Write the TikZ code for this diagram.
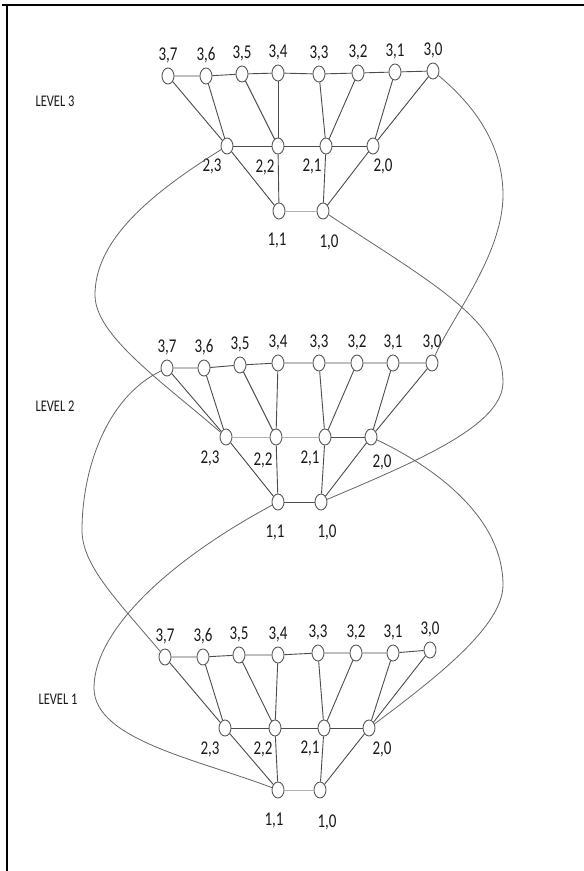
\documentclass[tikz,border=0pt]{standalone}
\usepackage{fontspec}
\setmainfont{Carlito}
\usepackage{graphicx}
\usetikzlibrary{shapes.geometric,calc}
\newcommand\tx[1]{\scalebox{1}[1.3]{#1}}
\begin{document}
\begin{tikzpicture}[x=1pt,y=-1pt,
  v/.style={ellipse,draw=black!65,fill=white,line width=0.9pt,minimum width=12pt,minimum height=16pt,inner sep=0pt},
  e/.style={draw=black!70,line width=0.9pt},
  el/.style={draw=black!30,line width=0.9pt},
  cv/.style={draw=black!60,line width=0.8pt},
  lab/.style={inner sep=0pt,font=\fontsize{15}{15}\selectfont,text=black!90},
  lvl/.style={inner sep=0pt,font=\fontsize{12.5}{13}\selectfont,text=black!90}]
\useasboundingbox (0,0) rectangle (584,871);
\fill[white] (0,0) rectangle (584,871);
% frame
\draw[line width=2pt] (2,5) -- (584,5);
\draw[line width=2pt] (7,5) -- (7,871);

% ---------- LEVEL 3 ----------
\foreach \n/\x/\y/\t in {37/168/76/{3,7},36/206/76/{3,6},35/242/74/{3,5},34/278/73/{3,4},33/319/74/{3,3},32/358/73/{3,2},31/395/72/{3,1},30/433/71/{3,0}}{
  \node[v] (L3n\n) at (\x,\y) {};
  \node[lab] (L3t\n) at ($(L3n\n)+(0,-21)$) {\tx{\t}};
}
\foreach \n/\x/\y in {23/227/146,22/278/146,21/326/146,20/373/146,11/279/211,10/323/211}{
  \node[v] (L3n\n) at (\x,\y) {};
}
\foreach \n/\x/\y/\t in {23/212/166/{2,3},22/265/167/{2,2},21/312/166/{2,1},20/383/166/{2,0},11/277/240/{1,1},10/329/242/{1,0}}{
  \node[lab] (L3t\n) at (\x,\y) {\tx{\t}};
}

% ---------- LEVEL 2 ----------
\foreach \n/\x/\y/\t in {37/167/368/{3,7},36/204/368/{3,6},35/240/365/{3,5},34/278/363/{3,4},33/319/363/{3,3},32/357/363/{3,2},31/393/363/{3,1},30/432/363/{3,0}}{
  \node[v] (L2n\n) at (\x,\y) {};
  \node[lab] (L2t\n) at ($(L2n\n)+(0,-21)$) {\tx{\t}};
}
\foreach \n/\x/\y in {23/226/437,22/276/437,21/325/437,20/371/437,11/278/502,10/321/502}{
  \node[v] (L2n\n) at (\x,\y) {};
}
\foreach \n/\x/\y/\t in {23/210/458/{2,3},22/263/460/{2,2},21/310/458/{2,1},20/382/462/{2,0},11/275/532/{1,1},10/327/532/{1,0}}{
  \node[lab] (L2t\n) at (\x,\y) {\tx{\t}};
}

% ---------- LEVEL 1 ----------
\foreach \n/\x/\y/\t in {37/165/657/{3,7},36/203/657/{3,6},35/239/655/{3,5},34/278/655/{3,4},33/318/653/{3,3},32/356/653/{3,2},31/393/653/{3,1},30/430/650/{3,0}}{
  \node[v] (L1n\n) at (\x,\y) {};
  \node[lab] (L1t\n) at ($(L1n\n)+(0,-21)$) {\tx{\t}};
}
\foreach \n/\x/\y in {23/225/728,22/275/728,21/324/728,20/369/728,11/278/790,10/320/790}{
  \node[v] (L1n\n) at (\x,\y) {};
}
\foreach \n/\x/\y/\t in {23/210/749/{2,3},22/263/749/{2,2},21/310/748/{2,1},20/382/749/{2,0},11/274/820/{1,1},10/327/822/{1,0}}{
  \node[lab] (L1t\n) at (\x,\y) {\tx{\t}};
}

% level labels
\node[lvl] (lv3) at (55,101) {\tx{LEVEL 3}};
\node[lvl] (lv2) at (55,406) {\tx{LEVEL 2}};
\node[lvl] (lv1) at (58,699) {\tx{LEVEL 1}};

% ---------- edges within levels ----------
\foreach \L in {L3,L2,L1}{
  \draw[e] (\L n37) -- (\L n36) -- (\L n35) -- (\L n34) -- (\L n33) -- (\L n32) -- (\L n31) -- (\L n30);
  \draw[e] (\L n37) -- (\L n23);
  \draw[e] (\L n36) -- (\L n23);
  \draw[e] (\L n35) -- (\L n22);
  \draw[e] (\L n34) -- (\L n22);
  \draw[e] (\L n33) -- (\L n21);
  \draw[e] (\L n32) -- (\L n21);
  \draw[e] (\L n31) -- (\L n20);
  \draw[e] (\L n30) -- (\L n20);
  \draw[e] (\L n23) -- (\L n11);
  \draw[e] (\L n22) -- (\L n11);
  \draw[e] (\L n21) -- (\L n10);
  \draw[e] (\L n20) -- (\L n10);
}
\draw[e] (L3n23) -- (L3n22) -- (L3n21) -- (L3n20);
\draw[el] (L3n11) -- (L3n10);
\draw[el] (L2n23) -- (L2n22) -- (L2n21);
\draw[e] (L2n21) -- (L2n20);
\draw[e] (L2n11) -- (L2n10);
\draw[e] (L1n23) -- (L1n22) -- (L1n21) -- (L1n20);
\draw[el] (L1n11) -- (L1n10);

% ---------- curves between levels ----------
\coordinate (c1) at (95,295);
\coordinate (c2) at (82,530);
\coordinate (c3) at (94,688);
\coordinate (r1) at (503,195);
\coordinate (r2) at (503,382);
\coordinate (r3) at (503,585);
\draw[cv] (L3n23) .. controls (140,200) and (95,245) .. (c1) .. controls (95,335) and (160,380) .. (L2n23);
\draw[cv] (L2n37) .. controls (105,398) and (82,472) .. (c2) .. controls (82,565) and (115,598) .. (L1n37);
\draw[cv] (L2n11) .. controls (170,560) and (94,630) .. (c3) .. controls (94,740) and (200,760) .. (L1n11);
\draw[cv] (L3n30) .. controls (480,110) and (503,150) .. (r1) .. controls (503,255) and (450,320) .. (L2n30);
\draw[cv] (L3n10) .. controls (430,282) and (503,320) .. (r2) .. controls (503,425) and (420,460) .. (L2n10);
\draw[cv] (L2n20) .. controls (440,470) and (503,520) .. (r3) .. controls (503,625) and (440,675) .. (L1n20);
\end{tikzpicture}
\end{document}
